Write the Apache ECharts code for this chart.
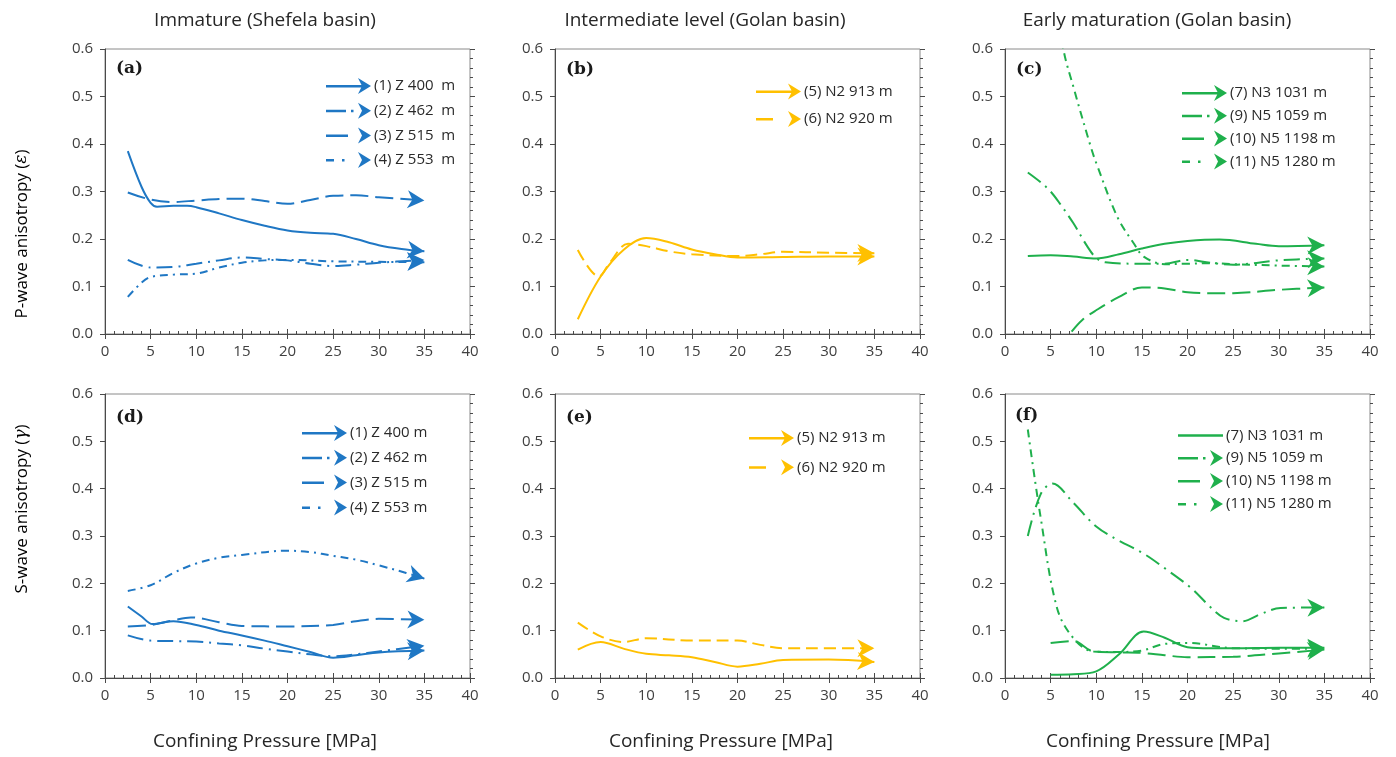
<!DOCTYPE html>
<html>
<head>
<meta charset="utf-8">
<script src="https://cdn.jsdelivr.net/npm/echarts@6/dist/echarts.min.js"></script>
<style>html,body{margin:0;padding:0;background:#fff}#c{width:1396px;height:757px}</style>
</head>
<body>
<div id="c"></div>
<script>
// ---------- texts ----------
const columnTitles = ['Immature (Shefela basin)', 'Intermediate level (Golan basin)', 'Early maturation (Golan basin)'];
const panelLabels = ['(a)', '(b)', '(c)', '(d)', '(e)', '(f)'];
const yNameP = ['P-wave anisotropy (', 'ε', ')'];
const yNameS = ['S-wave anisotropy (', 'γ', ')'];
const xName = 'Confining Pressure [MPa]';
const xTicks = [0, 40, 5];      // min, max, step
const yTicks = [0, 0.6, 0.1];

// ---------- series names ----------
const nZ400 = '(1) Z 400 m', nZ462 = '(2) Z 462 m', nZ515 = '(3) Z 515 m', nZ553 = '(4) Z 553 m';
const nN913 = '(5) N2 913 m', nN920 = '(6) N2 920 m';
const nN1031 = '(7) N3 1031 m', nN1059 = '(9) N5 1059 m', nN1198 = '(10) N5 1198 m', nN1280 = '(11) N5 1280 m';

// ---------- data: [pressure MPa, anisotropy] ----------
// (a) P-wave, Shefela
const pZ400 = [[2.5,0.385],[4,0.31],[5,0.276],[5.7,0.268],[7.5,0.27],[9,0.27],[10,0.267],[12.5,0.254],[15,0.24],[17.5,0.228],[20,0.218],[22.5,0.213],[25,0.211],[27.5,0.2],[30,0.187],[32.5,0.179],[35,0.174]];
const pZ462 = [[2.5,0.156],[5,0.14],[7.5,0.141],[10,0.148],[12.5,0.155],[15,0.161],[17.5,0.158],[20,0.155],[22.5,0.148],[25,0.143],[27.5,0.146],[30,0.15],[35,0.156]];
const pZ515 = [[2.5,0.298],[5,0.283],[7.5,0.278],[10,0.281],[12.5,0.284],[15,0.285],[17.5,0.28],[20,0.274],[22.5,0.282],[25,0.291],[27.5,0.292],[30,0.288],[35,0.281]];
const pZ553 = [[2.5,0.078],[4,0.108],[5,0.12],[7.5,0.125],[10,0.127],[12.5,0.14],[15,0.15],[17.5,0.155],[20,0.156],[25,0.153],[30,0.152],[35,0.151]];
// (b) P-wave, Golan intermediate
const pN913 = [[2.5,0.031],[5,0.121],[7.5,0.177],[10,0.202],[12.5,0.193],[15,0.178],[17.5,0.168],[20,0.161],[25,0.162],[30,0.163],[35,0.163]];
const pN920 = [[2.5,0.177],[4.8,0.121],[6,0.15],[8,0.19],[10,0.185],[12.5,0.174],[15,0.168],[20,0.164],[22.5,0.168],[25,0.173],[30,0.171],[35,0.17]];
// (c) P-wave, Golan early maturation
const pN1031 = [[2.5,0.164],[5,0.166],[7.5,0.163],[10,0.159],[12.5,0.168],[15,0.18],[17.5,0.19],[20,0.196],[23.5,0.199],[27.5,0.19],[30,0.185],[35,0.187]];
const pN1059 = [[2.5,0.34],[4,0.318],[5,0.3],[6,0.275],[7.5,0.233],[9,0.185],[10,0.16],[11,0.151],[15,0.148],[17.5,0.148],[20,0.156],[22.5,0.15],[25,0.146],[30,0.155],[35,0.159]];
const pN1198 = [[7.3,0.005],[8.5,0.03],[10,0.05],[12.5,0.078],[15,0.098],[17.5,0.096],[20,0.088],[22.5,0.086],[25,0.086],[30,0.093],[35,0.098]];
const pN1280 = [[5,0.8],[6.4,0.6],[7.5,0.52],[9.4,0.394],[10,0.36],[12.3,0.247],[14.1,0.191],[15.2,0.163],[17.5,0.147],[20,0.148],[22.5,0.149],[25,0.147],[30,0.144],[35,0.142]];
// (d) S-wave, Shefela
const sZ400 = [[2.5,0.151],[4,0.13],[5.2,0.114],[7.5,0.12],[10,0.112],[12.5,0.1],[15,0.09],[17.5,0.079],[20,0.067],[22.5,0.055],[25,0.043],[27.5,0.048],[30,0.054],[35,0.058]];
const sZ462 = [[2.5,0.09],[5,0.079],[7.5,0.078],[10,0.077],[12.5,0.073],[15,0.069],[17.5,0.062],[20,0.056],[22.5,0.05],[25,0.046],[27.5,0.05],[30,0.056],[35,0.068]];
const sZ515 = [[2.5,0.109],[5,0.112],[7.5,0.122],[9.4,0.128],[12.5,0.118],[15,0.11],[20,0.109],[25,0.112],[27.5,0.12],[30,0.125],[35,0.123]];
const sZ553 = [[2.5,0.184],[5,0.196],[7.5,0.222],[10,0.242],[12.5,0.254],[15,0.26],[20,0.269],[22.5,0.266],[25,0.258],[27.5,0.25],[30,0.238],[33,0.222],[35,0.21]];
// (e) S-wave, Golan intermediate
const sN913 = [[2.5,0.06],[5,0.076],[7.5,0.062],[10,0.051],[12.5,0.048],[15,0.044],[17.5,0.034],[20,0.024],[22.5,0.03],[25,0.038],[30,0.039],[35,0.034]];
const sN920 = [[2.5,0.117],[5,0.088],[7.5,0.076],[10,0.084],[15,0.079],[20,0.079],[22.5,0.07],[25,0.063],[30,0.063],[35,0.063]];
// (f) S-wave, Golan early maturation
const sN1031 = [[5,0.007],[7.5,0.008],[10,0.014],[12.5,0.05],[15.2,0.098],[17.5,0.085],[20,0.065],[22.5,0.063],[25,0.063],[30,0.064],[35,0.064]];
const sN1059 = [[2.5,0.3],[3.9,0.388],[5.2,0.411],[7.5,0.37],[10,0.32],[12.5,0.29],[15,0.265],[17.5,0.232],[20.4,0.19],[22.5,0.15],[24,0.127],[26,0.12],[28,0.135],[30.2,0.148],[35,0.149]];
const sN1198 = [[5,0.074],[7.5,0.078],[9.7,0.056],[12.5,0.054],[15,0.053],[17.5,0.048],[20,0.044],[25,0.045],[30,0.052],[35,0.06]];
const sN1280 = [[2.5,0.525],[3.9,0.34],[5.7,0.148],[7.5,0.084],[9.7,0.056],[12.5,0.055],[15,0.058],[17.5,0.072],[20,0.074],[25,0.063],[30,0.062],[35,0.062]];

// ---------- styles ----------
const BLUE = '#1f77c4', GOLD = '#ffc000', GREEN = '#1fb04c';
const DASH = {
  solid: 'solid',
  longDash: [18, 7],
  longDashDot: [16, 6, 2, 6],
  dashDot: [8, 5, 2, 5],
  dash: [12, 6]
};
const ICON = {
  solid: 'path://M0,7L38,7L38,9.5L0,9.5Z M32,0L45,8L32,16L36,8Z',
  longDashDot: 'path://M0,7L20,7L20,9.5L0,9.5Z M25,7L27.5,7L27.5,9.5L25,9.5Z M32,0L45,8L32,16L36,8Z',
  longDash: 'path://M0,7L22,7L22,9.5L0,9.5Z M32,0L45,8L32,16L36,8Z',
  dashDot: 'path://M0,7L8,7L8,9.5L0,9.5Z M16,7L18.5,7L18.5,9.5L16,9.5Z M32,0L45,8L32,16L36,8Z',
  dash: 'path://M0,7L17,7L17,9.5L0,9.5Z M32,0L45,8L32,16L36,8Z',
  plain: 'path://M0,7L46,7L46,9.5L0,9.5Z'
};
const ARROW = 'path://M0,0L17,9L0,18L5,9Z';
const ARROW_W = 17, ARROW_H = 18;
const FONT = '"Open Sans", "Noto Sans", sans-serif';

const panels = [
  { color: BLUE, lines: [[nZ400, pZ400, 'solid'], [nZ462, pZ462, 'longDashDot'], [nZ515, pZ515, 'longDash'], [nZ553, pZ553, 'dashDot']],
    legend: { left: 326, top: 78, gap: 8.7 }, wide: true },
  { color: GOLD, lines: [[nN913, pN913, 'solid'], [nN920, pN920, 'dash']],
    legend: { left: 756, top: 83.5, gap: 11.5 } },
  { color: GREEN, lines: [[nN1031, pN1031, 'solid'], [nN1059, pN1059, 'longDashDot'], [nN1198, pN1198, 'longDash'], [nN1280, pN1280, 'dashDot']],
    legend: { left: 1182, top: 85, gap: 6.8 } },
  { color: BLUE, lines: [[nZ400, sZ400, 'solid'], [nZ462, sZ462, 'longDashDot'], [nZ515, sZ515, 'longDash'], [nZ553, sZ553, 'dashDot']],
    legend: { left: 302, top: 425, gap: 8.8 } },
  { color: GOLD, lines: [[nN913, sN913, 'solid'], [nN920, sN920, 'dash']],
    legend: { left: 749, top: 430, gap: 13.3 } },
  { color: GREEN, lines: [[nN1031, sN1031, 'solid'], [nN1059, sN1059, 'longDashDot'], [nN1198, sN1198, 'longDash'], [nN1280, sN1280, 'dashDot']],
    legend: { left: 1178, top: 428, gap: 7 }, plainFirst: true }
];

const GRID_LEFT = [105, 555, 1005], GRID_TOP = [49, 394], GRID_W = 365, GRID_H = [285, 284];
const AXIS_COLOR = '#4a4a4a';

const grids = [], xAxes = [], yAxes = [], legends = [];
panels.forEach((p, g) => {
  const col = g % 3, row = Math.floor(g / 3);
  const h = GRID_H[row];
  grids.push({ left: GRID_LEFT[col], top: GRID_TOP[row], width: GRID_W, height: h,
    show: true, borderColor: '#8a8a8a', borderWidth: 1, backgroundColor: 'transparent' });
  // main x axis: labels + outward major ticks
  xAxes.push({ gridIndex: g, type: 'value', min: xTicks[0], max: xTicks[1], interval: xTicks[2], position: 'bottom',
    axisLine: { show: true, lineStyle: { color: AXIS_COLOR, width: 1 } },
    axisTick: { show: true, inside: false, length: 5, lineStyle: { color: AXIS_COLOR } },
    minorTick: { show: false }, splitLine: { show: false },
    axisLabel: { show: true, fontSize: 15, color: '#404040', fontFamily: FONT, margin: 10 } });
  // inner x axis (same line): inward major + minor ticks
  xAxes.push({ gridIndex: g, type: 'value', min: xTicks[0], max: xTicks[1], interval: xTicks[2], position: 'top', offset: -h,
    axisLine: { show: false },
    axisTick: { show: true, inside: false, length: 5, lineStyle: { color: AXIS_COLOR } },
    minorTick: { show: true, splitNumber: 5, length: 3, lineStyle: { color: AXIS_COLOR } },
    splitLine: { show: false }, axisLabel: { show: false } });
  yAxes.push({ gridIndex: g, type: 'value', min: yTicks[0], max: yTicks[1], interval: yTicks[2], position: 'left',
    axisLine: { show: true, lineStyle: { color: AXIS_COLOR, width: 1 } },
    axisTick: { show: true, inside: false, length: 5, lineStyle: { color: AXIS_COLOR } },
    minorTick: { show: false }, splitLine: { show: false },
    axisLabel: { show: true, fontSize: 15, color: '#404040', fontFamily: FONT, margin: 12, formatter: v => v.toFixed(1) } });
  yAxes.push({ gridIndex: g, type: 'value', min: yTicks[0], max: yTicks[1], interval: yTicks[2], position: 'right', offset: -GRID_W,
    axisLine: { show: false },
    axisTick: { show: true, inside: false, length: 5, lineStyle: { color: AXIS_COLOR } },
    minorTick: { show: true, splitNumber: 5, length: 3, lineStyle: { color: AXIS_COLOR } },
    splitLine: { show: false }, axisLabel: { show: false } });
  const lg = p.legend;
  legends.push({ orient: 'vertical', left: lg.left, top: lg.top, itemGap: lg.gap, itemWidth: 45, itemHeight: 16,
    selectedMode: false, padding: 0,
    itemStyle: { borderWidth: 0 },
    textStyle: { fontSize: 15, color: '#2a2a2a', fontFamily: FONT, padding: [0, 0, 0, -2] },
    formatter: p.wide ? (n => n.replace(/ m$/, '  m')) : undefined,
    data: p.lines.map((ln, k) => ({ name: ln[0], icon: (p.plainFirst && k === 0) ? ICON.plain : ICON[ln[2]] })) });
});

function buildSeries(rot) {
  const out = [];
  panels.forEach((p, g) => {
    p.lines.forEach(ln => {
      const idx = out.length;
      const r = rot ? rot[idx] : 0;
      const t = r * Math.PI / 180, a = ARROW_W / 2;
      const pts = ln[1];
      const data = pts.map((d, i) => i < pts.length - 1 ? d : {
        value: d, symbol: ARROW, symbolSize: [ARROW_W, ARROW_H], symbolRotate: r,
        symbolOffset: [-a * Math.cos(t), a * Math.sin(t)]
      });
      out.push({ type: 'line', name: ln[0], xAxisIndex: 2 * g, yAxisIndex: 2 * g, data,
        smooth: 0.35, symbol: 'none', showSymbol: true, color: p.color,
        lineStyle: { color: p.color, width: 2, type: DASH[ln[2]] },
        itemStyle: { color: p.color, borderWidth: 0 },
        clip: true, silent: true, animation: false, z: 3 });
    });
  });
  return out;
}

const graphics = [];
const titleX = [265, 705, 1157];
columnTitles.forEach((t, i) => graphics.push({ type: 'text', x: titleX[i], y: 21, silent: true,
  style: { text: t, font: '19px ' + FONT, fill: '#262626', textAlign: 'center', textVerticalAlign: 'middle' } }));
const nameX = [265, 721, 1158];
nameX.forEach(x => graphics.push({ type: 'text', x, y: 742, silent: true,
  style: { text: xName, font: '19px ' + FONT, fill: '#262626', textAlign: 'center', textVerticalAlign: 'middle' } }));
const labelPos = [[116, 69], [566, 70], [1016, 70], [116, 418], [566, 418], [1015, 416]];
panelLabels.forEach((t, i) => graphics.push({ type: 'text', x: labelPos[i][0], y: labelPos[i][1], silent: true,
  style: { text: t, font: 'bold 17px "DejaVu Serif", serif', fill: '#1a1a1a', textAlign: 'left', textVerticalAlign: 'middle' } }));
[[yNameP, 234], [yNameS, 509]].forEach(([parts, cy]) => graphics.push({ type: 'text', x: 22, y: cy, rotation: Math.PI / 2, silent: true,
  style: { text: '{n|' + parts[0] + '}{i|' + parts[1] + '}{n|' + parts[2] + '}', textAlign: 'center', textVerticalAlign: 'middle',
    rich: { n: { fontSize: 17, fontFamily: FONT, color: '#262626' }, i: { fontSize: 17, fontStyle: 'italic', fontFamily: '"DejaVu Serif", serif', color: '#262626' } } } }));

const chart = echarts.init(document.getElementById('c'), null, { renderer: 'canvas', width: 1396, height: 757 });
const option = {
  animation: false,
  backgroundColor: '#fff',
  grid: grids, xAxis: xAxes, yAxis: yAxes, legend: legends,
  graphic: graphics,
  series: buildSeries(null)
};
chart.setOption(option);

// second pass: orient arrowheads along final segment
const rot = [];
panels.forEach((p, g) => p.lines.forEach(ln => {
  const pts = ln[1];
  const p1 = chart.convertToPixel({ gridIndex: g }, pts[pts.length - 2]);
  const p2 = chart.convertToPixel({ gridIndex: g }, pts[pts.length - 1]);
  rot.push(-Math.atan2(p2[1] - p1[1], p2[0] - p1[0]) * 180 / Math.PI);
}));
chart.setOption({ series: buildSeries(rot) });
</script>
</body>
</html>
